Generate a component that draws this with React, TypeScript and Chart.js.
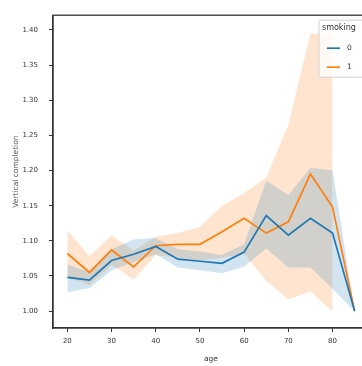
import { useEffect, useRef } from "react";
import { Chart, registerables } from "chart.js";
Chart.register(...registerables);

const ages = [20, 25, 30, 35, 40, 45, 50, 55, 60, 65, 70, 75, 80, 85];
const blueMean = [1.048, 1.044, 1.072, 1.081, 1.092, 1.074, 1.071, 1.068, 1.084, 1.136, 1.108, 1.132, 1.111, 1.0];
const blueLow = [1.027, 1.033, 1.058, 1.07, 1.081, 1.062, 1.058, 1.054, 1.063, 1.089, 1.062, 1.062, 1.032, 1.0];
const blueHigh = [1.066, 1.056, 1.088, 1.102, 1.104, 1.088, 1.085, 1.08, 1.095, 1.186, 1.165, 1.204, 1.2, 1.0];
const orangeMean = [1.082, 1.055, 1.087, 1.063, 1.093, 1.095, 1.095, 1.113, 1.132, 1.111, 1.127, 1.195, 1.148, 1.0];
const orangeLow = [1.048, 1.037, 1.066, 1.045, 1.08, 1.076, 1.072, 1.076, 1.082, 1.043, 1.017, 1.028, 1.0, null];
const orangeHigh = [1.115, 1.078, 1.108, 1.086, 1.106, 1.111, 1.12, 1.15, 1.168, 1.19, 1.265, 1.395, 1.395, null];

const xTicks = [20, 30, 40, 50, 60, 70, 80];
const yTicks = [1.0, 1.05, 1.1, 1.15, 1.2, 1.25, 1.3, 1.35, 1.4];
const seriesLabels = ["0", "1"];
const legendTitle = "smoking";
const xTitle = "age";
const yTitle = "Vertical completion";

const BLUE = "#1f77b4";
const ORANGE = "#ff7f0e";
const BLUE_BAND = "rgba(31,119,180,0.2)";
const ORANGE_BAND = "rgba(255,127,14,0.2)";
const FONT = "DejaVu Sans";

const pts = (ys: (number | null)[]) => ages.map((a, i) => ({ x: a, y: ys[i] }));

export default function App() {
  const ref = useRef<HTMLCanvasElement>(null);
  useEffect(() => {
    if (!ref.current) return;
    const frame = {
      id: "frame",
      afterDatasetsDraw(chart: any) {
        const { ctx, chartArea: a } = chart;
        ctx.save();
        ctx.strokeStyle = "#333";
        ctx.lineWidth = 1.3;
        ctx.strokeRect(a.left, a.top, a.right - a.left, a.bottom - a.top);
        ctx.restore();
      },
    };
    const legend = {
      id: "customLegend",
      afterDraw(chart: any) {
        const { ctx, chartArea: a } = chart;
        const x0 = a.right - 50;
        const x1 = a.right - 3;
        const y0 = a.top + 5;
        const y1 = a.top + 62;
        ctx.save();
        ctx.fillStyle = "rgba(255,255,255,0.8)";
        ctx.strokeStyle = "#d0d0d0";
        ctx.lineWidth = 1;
        ctx.beginPath();
        ctx.roundRect(x0, y0, x1 - x0, y1 - y0, 2);
        ctx.fill();
        ctx.stroke();
        ctx.fillStyle = "#333";
        ctx.font = `8px "${FONT}"`;
        ctx.textBaseline = "middle";
        ctx.textAlign = "left";
        ctx.fillText(legendTitle, x0 + 3, a.top + 13);
        ctx.font = `7.5px "${FONT}"`;
        const colors = [BLUE, ORANGE];
        seriesLabels.forEach((lab, i) => {
          const y = a.top + 33 + i * 19;
          ctx.strokeStyle = colors[i];
          ctx.lineWidth = 1.7;
          ctx.beginPath();
          ctx.moveTo(x0 + 8, y);
          ctx.lineTo(x0 + 21, y);
          ctx.stroke();
          ctx.fillStyle = "#333";
          ctx.fillText(lab, x0 + 28, y);
        });
        ctx.restore();
      },
    };
    const lineDs = (label: string, ys: number[], color: string) => ({
      label,
      data: pts(ys),
      borderColor: color,
      backgroundColor: color,
      borderWidth: 1.7,
      pointRadius: 0,
      fill: false,
      order: 0,
    });
    const bandDs = (ys: (number | null)[], color: string, fill: any) => ({
      label: "",
      data: pts(ys),
      borderColor: "rgba(0,0,0,0)",
      backgroundColor: color,
      borderWidth: 0,
      pointRadius: 0,
      fill,
      order: 1,
    });
    const chart = new Chart(ref.current, {
      type: "line",
      data: {
        datasets: [
          lineDs(seriesLabels[0], blueMean, BLUE),
          lineDs(seriesLabels[1], orangeMean, ORANGE),
          bandDs(blueHigh, BLUE_BAND, false),
          bandDs(blueLow, BLUE_BAND, 2),
          bandDs(orangeHigh, ORANGE_BAND, false),
          bandDs(orangeLow, ORANGE_BAND, 4),
        ] as any,
      },
      options: {
        animation: false,
        responsive: true,
        maintainAspectRatio: false,
        layout: { padding: { top: 10, left: 0, right: 0, bottom: 0 } },
        plugins: { legend: { display: false }, tooltip: { enabled: false } },
        scales: {
          x: {
            type: "linear",
            min: 16.75,
            max: 88.25,
            afterBuildTicks: (s: any) => {
              s.ticks = xTicks.map((v) => ({ value: v }));
            },
            afterFit: (s: any) => {
              s.height = 38;
            },
            ticks: { font: { family: FONT, size: 7 }, color: "#333", padding: 5 },
            grid: { drawOnChartArea: false, drawTicks: true, tickLength: 4, color: "#333" },
            border: { color: "#333", width: 1.3 },
            title: { display: true, text: xTitle, font: { family: FONT, size: 7.5 }, color: "#333", padding: { top: 0, bottom: 2 } },
          },
          y: {
            type: "linear",
            min: 0.976,
            max: 1.421,
            afterBuildTicks: (s: any) => {
              s.ticks = yTicks.map((v) => ({ value: v }));
            },
            afterFit: (s: any) => {
              s.width = 53;
            },
            ticks: {
              font: { family: FONT, size: 7 },
              color: "#333",
              padding: 11,
              callback: (v: any) => Number(v).toFixed(2),
            },
            grid: { drawOnChartArea: false, drawTicks: true, tickLength: 4, color: "#333" },
            border: { color: "#333", width: 1.3 },
            title: { display: true, text: yTitle, font: { family: FONT, size: 7.5 }, color: "#555", padding: { top: 12, bottom: 0 } },
          },
        },
      },
      plugins: [frame, legend],
    });
    return () => chart.destroy();
  }, []);
  return (
    <div style={{ position: "fixed", left: 0, top: 0, width: 362, height: 366, overflow: "hidden", background: "#fff" }}>
      <div style={{ width: 369, height: 366 }}>
        <canvas ref={ref} />
      </div>
    </div>
  );
}
